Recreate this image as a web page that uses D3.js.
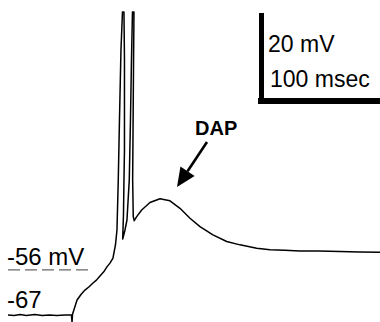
<!DOCTYPE html>
<html><head><meta charset="utf-8">
<script src="https://cdn.jsdelivr.net/npm/d3@7"></script>
<style>html,body{margin:0;padding:0;background:#fff;}svg{display:block;}</style>
</head><body>
<svg id="c" width="380" height="322"></svg>
<script>
// time (ms) and membrane potential (mV)
const timeMs = [0, 5, 10, 15, 22, 28, 34, 40, 46.7, 52.0, 52.5, 52.9, 56.6, 60, 63.1, 66.5, 69.7, 72.5, 75.4, 78.5, 81.1, 83.6,
  86.07, 88.11, 89.34, 90.41, 91.39, 92.62, 93.85, 95.08, 95.49, 95.49, 95.08, 94.67, 94.02, 94.67, 95.90, 97.54, 99.43, 100.41, 101.23, 102.05, 103.28, 102.70, 102.21, 102.70, 103.52,
  105.5, 109.6, 116.4, 124.6, 132.8, 141.0, 149.2, 157.4, 168.0, 179.3, 190.2, 203.9, 214.8, 227, 239.3, 255, 272.1, 288, 305];
const voltageMv = [-67, -67.1, -66.9, -67.1, -66.9, -67.1, -67.0, -67.1, -67.0, -67.0, -68.7, -66.8, -63.4, -62.0, -61.0, -60.2, -59.3, -58.6, -57.6, -56.6, -55.4, -54.5,
  -53.27, -50.13, -46.52, -34.47, -20.01, -3.14, 6.01, 6.01, -5.55, -27.24, -34.47, -42.90, -48.69, -47.96, -46.52, -44.11, -34.47, -20.01, -5.55, 6.01, 6.01, -15.19, -34.47, -43.31, -44.28,
  -43.3, -41.7, -39.9, -39.0, -39.5, -41.3, -43.7, -45.7, -47.7, -49.3, -50.1, -50.9, -51.3, -51.4, -51.6, -51.6, -51.7, -51.8, -51.9];
const scaleBarMs = 100;
const scaleBarMv = 20;
const scaleLabels = ["20 mV", "100 msec"];
const levelLabels = ["-56 mV", "-67"];
const levelValues = [-56, -67];
const annotation = "DAP";

const svg = d3.select("#c");
const x = d3.scaleLinear().domain([0, 305]).range([8, 380]);
const y = d3.scaleLinear().domain([-67, 6]).range([315, 12]);

// dashed -56 mV line
svg.append("line")
  .attr("x1", 8).attr("x2", 90)
  .attr("y1", y(levelValues[0]) + 0.5).attr("y2", y(levelValues[0]) + 0.5)
  .attr("stroke", "#666").attr("stroke-width", 1.2)
  .attr("stroke-dasharray", "12,5");

// trace
const pts = timeMs.map((t, i) => [t, voltageMv[i]]);
svg.append("path")
  .attr("d", d3.line().x(d => x(d[0])).y(d => y(d[1]))(pts))
  .attr("fill", "none").attr("stroke", "#000").attr("stroke-width", 1.5)
  .attr("stroke-linejoin", "round");

// scale bars
const bx0 = 258, by0 = 101;
const vLen = y(-67) - y(-67 + scaleBarMv);
svg.append("rect")
  .attr("x", bx0 + 1).attr("y", by0 - vLen - 5)
  .attr("width", 5).attr("height", vLen + 5)
  .attr("fill", "#000");
svg.append("rect")
  .attr("x", bx0).attr("y", by0 - 3)
  .attr("width", x(scaleBarMs) - x(0)).attr("height", 6)
  .attr("fill", "#000");

const font = "'Liberation Sans', Arial, Helvetica, sans-serif";
svg.append("text").attr("x", 268).attr("y", 52).text(scaleLabels[0])
  .attr("font-family", font).attr("font-size", 23);
svg.append("text").attr("x", 270).attr("y", 87).text(scaleLabels[1])
  .attr("font-family", font).attr("font-size", 23);

svg.append("text").attr("x", 7).attr("y", y(levelValues[0]) - 4).text(levelLabels[0])
  .attr("font-family", font).attr("font-size", 24);
svg.append("text").attr("x", 7).attr("y", y(levelValues[1]) - 7).text(levelLabels[1])
  .attr("font-family", font).attr("font-size", 24);

// DAP annotation
svg.append("text").attr("x", 195).attr("y", 135).text(annotation)
  .attr("font-family", font).attr("font-size", 20).attr("font-weight", "bold");
const ax1 = 207, ay1 = 142, ax2 = 177, ay2 = 187;
const ang = Math.atan2(ay2 - ay1, ax2 - ax1);
const L = 19, W = 8.5;
const bxA = ax2 - L * Math.cos(ang), byA = ay2 - L * Math.sin(ang);
svg.append("line").attr("x1", ax1).attr("y1", ay1).attr("x2", bxA).attr("y2", byA)
  .attr("stroke", "#000").attr("stroke-width", 2.6);
svg.append("path")
  .attr("d", `M${ax2},${ay2}L${bxA + W * Math.sin(ang)},${byA - W * Math.cos(ang)}L${bxA - W * Math.sin(ang)},${byA + W * Math.cos(ang)}Z`)
  .attr("fill", "#000");
</script>
</body></html>
